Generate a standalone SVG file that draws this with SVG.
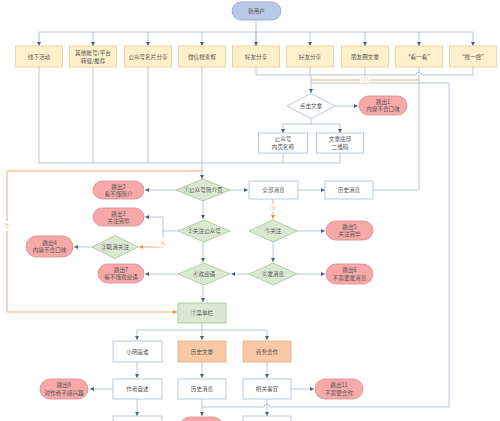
<svg xmlns="http://www.w3.org/2000/svg" width="500" height="421" viewBox="0 0 500 421">
<style>
.bx{fill:#fff;stroke:#a9bccf;stroke-width:0.8}
.src{fill:#fdf0cb;stroke:#e2cd96;stroke-width:0.8}
.dia{fill:#dbe9d3;stroke:#a4c094;stroke-width:0.8}
.ex{fill:#f7a9a9;stroke:#d98c8c;stroke-width:0.8}
.pe{fill:#f8c9a4;stroke:#dcae88;stroke-width:0.8}
.st{fill:#b9c8e6;stroke:#8fa3cf;stroke-width:0.8}
text{font-family:"Noto Sans CJK SC","Noto Sans",sans-serif;font-size:5.6px;fill:#555;text-anchor:middle;dominant-baseline:central}
.ln{fill:none;stroke:#a6b9cc;stroke-width:0.8}
.or{fill:none;stroke:#f2a46a;stroke-width:0.9}
.ol{fill:#f2a46a;font-size:5.5px}
</style>
<defs>
<marker id="a" viewBox="0 0 6 6" refX="6" refY="3" markerWidth="4" markerHeight="4" orient="auto" markerUnits="userSpaceOnUse"><path d="M0,0L6,3L0,6z" fill="#4f6078"/></marker>
<marker id="o" viewBox="0 0 6 6" refX="6" refY="3" markerWidth="4" markerHeight="4" orient="auto" markerUnits="userSpaceOnUse"><path d="M0,0L6,3L0,6z" fill="#ee8f45"/></marker>
</defs>
<g id="connectors">
<path class="ln" d="M256,20V46M39,32H473"/>
<path class="ln" marker-end="url(#a)" d="M39,32V46"/>
<path class="ln" marker-end="url(#a)" d="M93,32V46"/>
<path class="ln" marker-end="url(#a)" d="M148,32V46"/>
<path class="ln" marker-end="url(#a)" d="M202,32V46"/>
<path class="ln" marker-end="url(#a)" d="M256,32V46"/>
<path class="ln" marker-end="url(#a)" d="M310,32V46"/>
<path class="ln" marker-end="url(#a)" d="M365,32V46"/>
<path class="ln" marker-end="url(#a)" d="M419,32V46"/>
<path class="ln" marker-end="url(#a)" d="M473,32V46"/>
<path class="ln" d="M39,67V163M93,67V163M148,67V163M202,67V163M39,163H340"/>
<path class="ln" marker-end="url(#a)" d="M202,163V179"/>
<path class="ln" d="M256,67V75M310,67V75M365,67V75M473,67V75M256,75H416a3,3 0 0 1 6,0H473"/>
<path class="ln" marker-end="url(#a)" d="M311,75V93"/>
<path class="ln" d="M419,67V190H373"/>
<path class="ln" d="M202,407H264a3,3 0 0 1 6,0H449V83H311"/>
<path class="or" d="M419,80H311"/>
<path class="ln" marker-end="url(#a)" d="M335,106H358"/>
<path class="ln" d="M311,119V124M283,124H340"/>
<path class="ln" marker-end="url(#a)" d="M283,124V133"/>
<path class="ln" marker-end="url(#a)" d="M340,124V133"/>
<path class="ln" d="M283,153V163M340,153V163"/>
<path class="or" marker-end="url(#o)" d="M202,171H7V312H177"/>
<path class="ln" marker-end="url(#a)" d="M176,190H145"/>
<path class="ln" marker-end="url(#a)" d="M230,190H248"/>
<path class="ln" marker-end="url(#a)" d="M298,190H325"/>
<path class="ln" marker-end="url(#a)" d="M203,201V219"/>
<path class="ln" marker-end="url(#a)" d="M178,231H163V217H145"/>
<path class="ln" d="M163,231V242"/>
<path class="or" marker-end="url(#o)" d="M163,244V247H139"/>
<path class="ln" marker-end="url(#a)" d="M92,247H74"/>
<path class="ln" marker-end="url(#a)" d="M203,242V262"/>
<path class="ln" marker-end="url(#a)" d="M178,274H145"/>
<path class="ln" marker-end="url(#a)" d="M249,274H231"/>
<path class="ln" marker-end="url(#a)" d="M297,274H325"/>
<path class="or" marker-end="url(#o)" d="M273,199V219"/>
<path class="ln" marker-end="url(#a)" d="M297,231H325"/>
<path class="ln" marker-end="url(#a)" d="M273,242V262"/>
<path class="ln" marker-end="url(#a)" d="M203,285V302"/>
<path class="ln" d="M202,323V330M137,330H267"/>
<path class="ln" marker-end="url(#a)" d="M202,330V340"/>
<path class="ln" marker-end="url(#a)" d="M137,330V340"/>
<path class="ln" marker-end="url(#a)" d="M267,330V340"/>
<path class="ln" marker-end="url(#a)" d="M137,362V378"/>
<path class="ln" marker-end="url(#a)" d="M202,362V378"/>
<path class="ln" marker-end="url(#a)" d="M267,362V378"/>
<path class="ln" marker-end="url(#a)" d="M113,389H90"/>
<path class="ln" marker-end="url(#a)" d="M291,389H314"/>
<path class="ln" marker-end="url(#a)" d="M137,399V416"/>
<path class="ln" marker-end="url(#a)" d="M202,399V416"/>
<path class="ln" marker-end="url(#a)" d="M267,399V416"/>
<g>
<rect x="360" y="77" width="10" height="6" fill="#fff"/><text class="ol" x="365" y="80">①</text>
<rect x="3" y="221" width="8" height="10" fill="#fff"/><text class="ol" x="7" y="226">②</text>
<rect x="268" y="204" width="10" height="8" fill="#fff"/><text class="ol" x="273" y="208">③</text>
<rect x="158" y="238" width="10" height="9" fill="#fff"/><text class="ol" x="163" y="242.5">④</text>
</g>
</g>
<g id="n-start"><rect class="st" x="232" y="2" width="49" height="18" rx="9"/><text x="256.5" y="11">新用户</text></g>
<g id="n-s1"><rect class="src" x="15.5" y="46" width="47" height="21"/><text x="39" y="56.5">线下活动</text></g>
<g id="n-s2"><rect class="src" x="69.5" y="46" width="47" height="21"/><text x="93" y="53">其他账号/平台</text><text x="93" y="60.5">转载/推荐</text></g>
<g id="n-s3"><rect class="src" x="124.5" y="46" width="47" height="21"/><text x="148" y="56.5">公众号名片分享</text></g>
<g id="n-s4"><rect class="src" x="178.5" y="46" width="47" height="21"/><text x="202" y="56.5">微信搜索框</text></g>
<g id="n-s5"><rect class="src" x="232.5" y="46" width="47" height="21"/><text x="256" y="56.5">好友分享</text></g>
<g id="n-s6"><rect class="src" x="286.5" y="46" width="47" height="21"/><text x="310" y="56.5">好友分享</text></g>
<g id="n-s7"><rect class="src" x="341.5" y="46" width="47" height="21"/><text x="365" y="56.5">朋友圈文章</text></g>
<g id="n-s8"><rect class="src" x="395.5" y="46" width="47" height="21"/><text x="419" y="56.5">“看一看”</text></g>
<g id="n-s9"><rect class="src" x="449.5" y="46" width="47" height="21"/><text x="473" y="56.5">“搜一搜”</text></g>
<g id="n-click"><polygon class="bx" points="287,106 311,93.5 335,106 311,118.5"/><text x="311" y="106">点击文章</text></g>
<g id="n-exit1"><rect class="ex" x="359" y="96" width="48" height="19" rx="9.5"/><text x="383" y="101.5">跳出1</text><text x="383" y="109">内容不合口味</text></g>
<g id="n-inner"><rect class="bx" x="258.5" y="133" width="49" height="20"/><text x="283" y="139">公众号</text><text x="283" y="146.5">内页名称</text></g>
<g id="n-qr"><rect class="bx" x="316.5" y="133" width="47" height="20"/><text x="340" y="139">文章底部</text><text x="340" y="146.5">二维码</text></g>
<g id="n-d1"><polygon class="dia" points="176,190 203,179 230,190 203,201"/><text x="203" y="190">①公众号简介页</text></g>
<g id="n-all"><rect class="bx" x="249" y="181" width="49" height="18"/><text x="273.5" y="190">全部消息</text></g>
<g id="n-hist"><rect class="bx" x="325" y="181" width="48" height="18"/><text x="349" y="190">历史消息</text></g>
<g id="n-exit2"><rect class="ex" x="93" y="181" width="51" height="18" rx="9"/><text x="118.5" y="186.5">跳出2</text><text x="118.5" y="194">看不懂简介</text></g>
<g id="n-d2"><polygon class="dia" points="178,231 204,220 230,231 204,242"/><text x="204" y="231">②关注公众号</text></g>
<g id="n-exit3"><rect class="ex" x="93" y="208" width="51" height="18" rx="9"/><text x="118.5" y="213.5">跳出3</text><text x="118.5" y="221">关注完毕</text></g>
<g id="n-d3"><polygon class="dia" points="92,247 115,235.5 138,247 115,258.5"/><text x="115" y="247">③取消关注</text></g>
<g id="n-exit4"><rect class="ex" x="26" y="236" width="47" height="21" rx="10.5"/><text x="49.5" y="242.5">跳出4</text><text x="49.5" y="250">内容不合口味</text></g>
<g id="n-d5"><polygon class="dia" points="249,231 273,220 297,231 273,242"/><text x="273" y="231">⑤关注</text></g>
<g id="n-exit5"><rect class="ex" x="326" y="221" width="47" height="19" rx="9.5"/><text x="349.5" y="226.5">跳出5</text><text x="349.5" y="234">关注完毕</text></g>
<g id="n-d4"><polygon class="dia" points="178,274 204,263 230,274 204,285"/><text x="204" y="274">④欢迎语</text></g>
<g id="n-exit7"><rect class="ex" x="98" y="264" width="46" height="19" rx="9.5"/><text x="121" y="269.5">跳出7</text><text x="121" y="277">看不懂欢迎语</text></g>
<g id="n-d6"><polygon class="dia" points="249,274 273,263 297,274 273,285"/><text x="273" y="274">⑥发消息</text></g>
<g id="n-exit6"><rect class="ex" x="326" y="264" width="47" height="20" rx="10"/><text x="349.5" y="270">跳出6</text><text x="349.5" y="277.5">不需要发消息</text></g>
<g id="n-menu"><rect class="dia" x="178" y="303" width="48" height="20"/><text x="202" y="313">⑦菜单栏</text></g>
<g id="n-who"><rect class="bx" x="113" y="341" width="49" height="21"/><text x="137.5" y="351.5">小明是谁</text></g>
<g id="n-harticle"><rect class="pe" x="178" y="341" width="48" height="21"/><text x="202" y="351.5">历史文章</text></g>
<g id="n-biz"><rect class="pe" x="243" y="341" width="48" height="21"/><text x="267" y="351.5">商务合作</text></g>
<g id="n-self"><rect class="bx" x="113" y="379" width="49" height="20"/><text x="137.5" y="389">作者自述</text></g>
<g id="n-hmsg"><rect class="bx" x="178" y="379" width="48" height="20"/><text x="202" y="389">历史消息</text></g>
<g id="n-rel"><rect class="bx" x="243" y="379" width="48" height="20"/><text x="267" y="389">相关事宜</text></g>
<g id="n-exit8"><rect class="ex" x="40" y="379" width="48" height="20" rx="10"/><text x="64" y="385">跳出8</text><text x="64" y="392.5">对作者不感兴趣</text></g>
<g id="n-exit11"><rect class="ex" x="315" y="379" width="48" height="20" rx="10"/><text x="339" y="385">跳出11</text><text x="339" y="392.5">不需要合作</text></g>
<g id="n-b1"><rect class="bx" x="113" y="416" width="49" height="20"/></g>
<g id="n-b2"><rect class="ex" x="180" y="417" width="43" height="20" rx="10"/></g>
<g id="n-b3"><rect class="bx" x="243" y="416" width="48" height="20"/></g>
</svg>
